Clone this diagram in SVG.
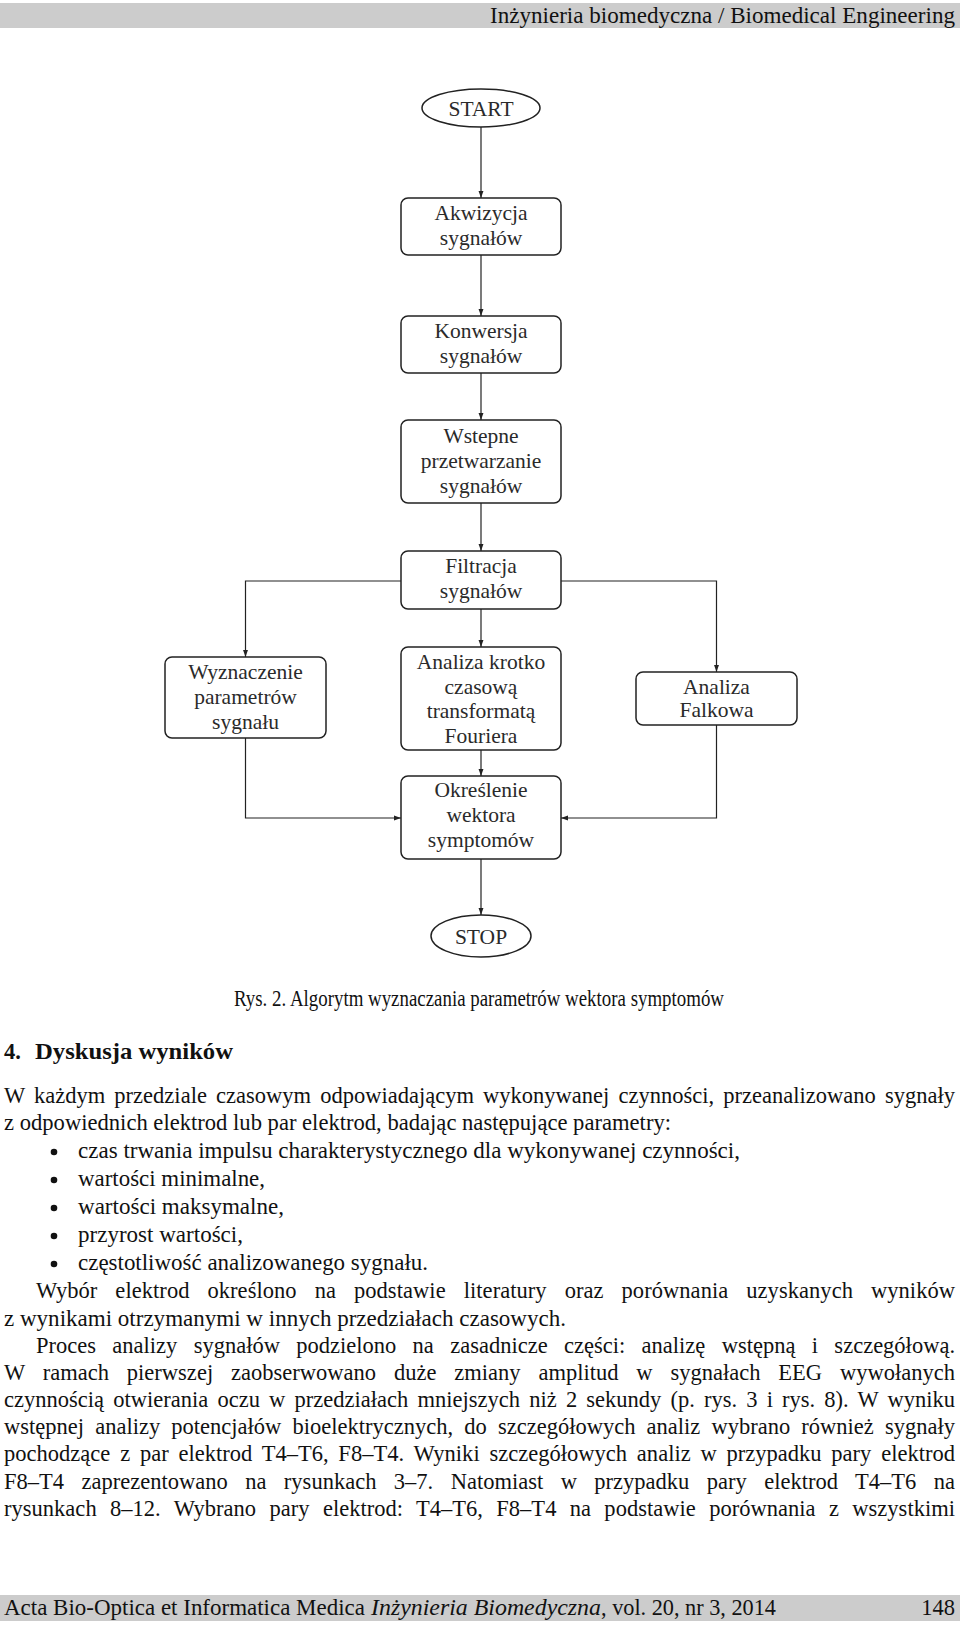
<svg xmlns="http://www.w3.org/2000/svg" width="960" height="1626" viewBox="0 0 960 1626">
<defs>
<marker id="ah" viewBox="0 0 10 10" refX="10" refY="5" markerWidth="7" markerHeight="7" markerUnits="userSpaceOnUse" orient="auto">
<path d="M0,1.5 L10,5 L0,8.5 Z" fill="#222"/>
</marker>
<style>
.box{fill:#fff;stroke:#222;stroke-width:1.5}
.lbl{font-family:"Liberation Serif","DejaVu Serif",serif;font-size:21.5px;fill:#2a2a2a;text-anchor:middle}
.con{fill:none;stroke:#222;stroke-width:1.2;marker-end:url(#ah)}
.body{font-family:"Liberation Serif",serif;font-size:22.5px;fill:#111}
.bar{fill:#cccccc}
</style>
</defs>
<rect width="960" height="1626" fill="#fff"/>
<rect class="bar" x="0" y="3" width="960" height="25"/>
<text class="body" x="955" y="23" font-size="23" text-anchor="end" textLength="465" lengthAdjust="spacingAndGlyphs">Inżynieria biomedyczna / Biomedical Engineering</text>

<g id="connectors">
<path class="con" d="M481,127 V198"/>
<path class="con" d="M481,255 V316"/>
<path class="con" d="M481,373 V420"/>
<path class="con" d="M481,503 V551"/>
<path class="con" d="M481,609 V647"/>
<path class="con" d="M401,581 H245.5 V657"/>
<path class="con" d="M561,581 H716.5 V672"/>
<path class="con" d="M481,750 V776"/>
<path class="con" d="M245.5,738 V818 H401"/>
<path class="con" d="M716.5,725 V818 H561"/>
<path class="con" d="M481,859 V915"/>
</g>

<g id="start">
<ellipse class="box" cx="481" cy="108" rx="59" ry="19"/>
<text class="lbl" x="481" y="115.5">START</text>
</g>
<g id="akwizycja">
<rect class="box" x="401" y="198" width="160" height="57" rx="7"/>
<text class="lbl" x="481" y="220">Akwizycja</text>
<text class="lbl" x="481" y="245">sygnałów</text>
</g>
<g id="konwersja">
<rect class="box" x="401" y="316" width="160" height="57" rx="7"/>
<text class="lbl" x="481" y="338">Konwersja</text>
<text class="lbl" x="481" y="363">sygnałów</text>
</g>
<g id="wstepne">
<rect class="box" x="401" y="420" width="160" height="83" rx="7"/>
<text class="lbl" x="481" y="443">Wstepne</text>
<text class="lbl" x="481" y="468">przetwarzanie</text>
<text class="lbl" x="481" y="493">sygnałów</text>
</g>
<g id="filtracja">
<rect class="box" x="401" y="551" width="160" height="58" rx="7"/>
<text class="lbl" x="481" y="573">Filtracja</text>
<text class="lbl" x="481" y="598">sygnałów</text>
</g>
<g id="wyznaczenie">
<rect class="box" x="165" y="657" width="161" height="81" rx="7"/>
<text class="lbl" x="245.5" y="679">Wyznaczenie</text>
<text class="lbl" x="245.5" y="704">parametrów</text>
<text class="lbl" x="245.5" y="729">sygnału</text>
</g>
<g id="stft">
<rect class="box" x="401" y="647" width="160" height="103" rx="7"/>
<text class="lbl" x="481" y="669">Analiza krotko</text>
<text class="lbl" x="481" y="694">czasową</text>
<text class="lbl" x="481" y="718">transformatą</text>
<text class="lbl" x="481" y="743">Fouriera</text>
</g>
<g id="falkowa">
<rect class="box" x="636" y="672" width="161" height="53" rx="7"/>
<text class="lbl" x="716.5" y="694">Analiza</text>
<text class="lbl" x="716.5" y="717">Falkowa</text>
</g>
<g id="okreslenie">
<rect class="box" x="401" y="776" width="160" height="83" rx="7"/>
<text class="lbl" x="481" y="797">Określenie</text>
<text class="lbl" x="481" y="822">wektora</text>
<text class="lbl" x="481" y="847">symptomów</text>
</g>
<g id="stop">
<ellipse class="box" cx="481" cy="936" rx="50" ry="21"/>
<text class="lbl" x="481" y="943.5">STOP</text>
</g>

<text class="body" x="234" y="1006" font-size="18.8" textLength="490" lengthAdjust="spacingAndGlyphs">Rys. 2. Algorytm wyznaczania parametrów wektora symptomów</text>

<g class="body" font-size="24.5" font-weight="bold">
<text x="4" y="1059">4.</text>
<text x="35" y="1059" textLength="198" lengthAdjust="spacingAndGlyphs">Dyskusja wyników</text>
</g>

<g class="body">
<text x="4" y="1103" word-spacing="3.5" textLength="951" lengthAdjust="spacing">W każdym przedziale czasowym odpowiadającym wykonywanej czynności, przeanalizowano sygnały</text>
<text x="4" y="1130" textLength="667" lengthAdjust="spacingAndGlyphs">z odpowiednich elektrod lub par elektrod, badając następujące parametry:</text>
<circle cx="54" cy="1152" r="3.3" fill="#111"/>
<text x="78" y="1158" textLength="662" lengthAdjust="spacingAndGlyphs">czas trwania impulsu charakterystycznego dla wykonywanej czynności,</text>
<circle cx="54" cy="1180" r="3.3" fill="#111"/>
<text x="78" y="1186" textLength="187" lengthAdjust="spacingAndGlyphs">wartości minimalne,</text>
<circle cx="54" cy="1208" r="3.3" fill="#111"/>
<text x="78" y="1214" textLength="206" lengthAdjust="spacingAndGlyphs">wartości maksymalne,</text>
<circle cx="54" cy="1236" r="3.3" fill="#111"/>
<text x="78" y="1242" textLength="165" lengthAdjust="spacingAndGlyphs">przyrost wartości,</text>
<circle cx="54" cy="1264" r="3.3" fill="#111"/>
<text x="78" y="1270" textLength="350" lengthAdjust="spacingAndGlyphs">częstotliwość analizowanego sygnału.</text>
<text x="36" y="1298" word-spacing="12.3" textLength="919" lengthAdjust="spacing">Wybór elektrod określono na podstawie literatury oraz porównania uzyskanych wyników</text>
<text x="4" y="1326" textLength="562" lengthAdjust="spacingAndGlyphs">z wynikami otrzymanymi w innych przedziałach czasowych.</text>
<text x="36" y="1353" word-spacing="10.7" textLength="919" lengthAdjust="spacing">Proces analizy sygnałów podzielono na zasadnicze części: analizę wstępną i szczegółową.</text>
<text x="4" y="1380" word-spacing="12.2" textLength="951" lengthAdjust="spacing">W ramach pierwszej zaobserwowano duże zmiany amplitud w sygnałach EEG wywołanych</text>
<text x="4" y="1407" word-spacing="3.5" textLength="951" lengthAdjust="spacing">czynnością otwierania oczu w przedziałach mniejszych niż 2 sekundy (p. rys. 3 i rys. 8). W wyniku</text>
<text x="4" y="1434" word-spacing="5.5" textLength="951" lengthAdjust="spacing">wstępnej analizy potencjałów bioelektrycznych, do szczegółowych analiz wybrano również sygnały</text>
<text x="4" y="1461" word-spacing="4.1" textLength="951" lengthAdjust="spacing">pochodzące z par elektrod T4–T6, F8–T4. Wyniki szczegółowych analiz w przypadku pary elektrod</text>
<text x="4" y="1489" word-spacing="11.8" textLength="951" lengthAdjust="spacing">F8–T4 zaprezentowano na rysunkach 3–7. Natomiast w przypadku pary elektrod T4–T6 na</text>
<text x="4" y="1516" word-spacing="7.7" textLength="951" lengthAdjust="spacing">rysunkach 8–12. Wybrano pary elektrod: T4–T6, F8–T4 na podstawie porównania z wszystkimi</text>
</g>

<rect class="bar" x="0" y="1595" width="960" height="26"/>
<g class="body" font-size="23">
<text x="4" y="1615" textLength="361" lengthAdjust="spacingAndGlyphs">Acta Bio-Optica et Informatica Medica</text>
<text x="371" y="1615" font-style="italic" textLength="230" lengthAdjust="spacingAndGlyphs">Inżynieria Biomedyczna</text>
<text x="601" y="1615" textLength="175" lengthAdjust="spacingAndGlyphs">, vol. 20, nr 3, 2014</text>
<text x="955" y="1615" text-anchor="end">148</text>
</g>
</svg>
